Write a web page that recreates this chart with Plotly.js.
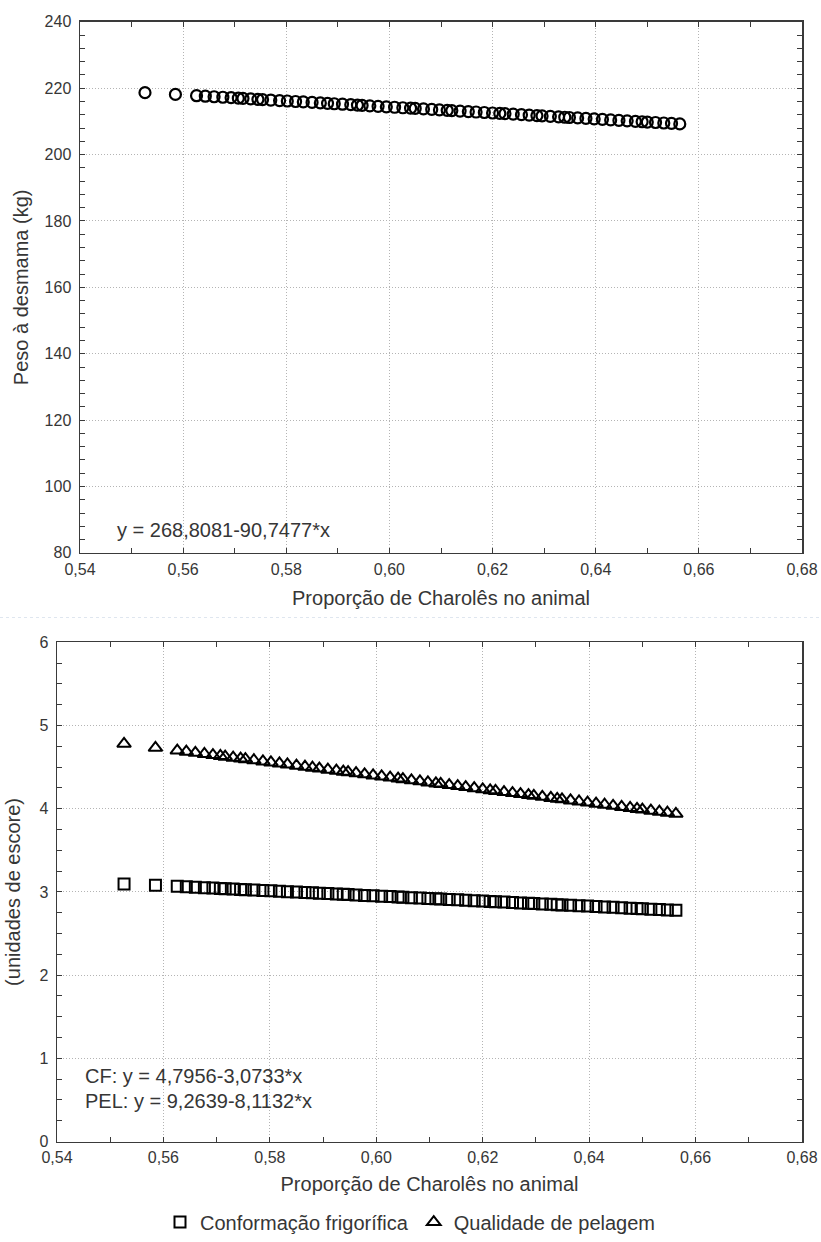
<!DOCTYPE html>
<html>
<head>
<meta charset="utf-8">
<script src="https://cdn.plot.ly/plotly-3.0.1.min.js"></script>
<style>
html,body{margin:0;padding:0;background:#fff;}
#chart{width:821px;height:1242px;}
</style>
</head>
<body>
<div id="chart"></div>
<script>
// Proporção de Charolês no animal (x values)
const propCharoles = [0.5526, 0.5585,
  0.5626, 0.5643, 0.5660, 0.5677, 0.5693, 0.5707, 0.5716, 0.5731, 0.5745, 0.5754,
  0.5770, 0.5787, 0.5802, 0.5818, 0.5833, 0.5850, 0.5866, 0.5880, 0.5893, 0.5909,
  0.5925, 0.5938, 0.5947, 0.5962, 0.5978, 0.5994, 0.6010, 0.6026, 0.6041, 0.6050,
  0.6066, 0.6082, 0.6097, 0.6112, 0.6121, 0.6137, 0.6153, 0.6168, 0.6184, 0.6200,
  0.6214, 0.6224, 0.6240, 0.6256, 0.6271, 0.6286, 0.6296, 0.6312, 0.6328, 0.6340,
  0.6349, 0.6365, 0.6381, 0.6397, 0.6413, 0.6429, 0.6445, 0.6461, 0.6477, 0.6490,
  0.6500, 0.6516, 0.6532, 0.6547, 0.6563];

// Peso à desmama (kg)
const pesoDesmama = [218.66, 218.13,
  217.75, 217.60, 217.44, 217.29, 217.15, 217.02, 216.94, 216.80, 216.67, 216.59,
  216.45, 216.29, 216.16, 216.01, 215.88, 215.72, 215.58, 215.45, 215.33, 215.19,
  215.04, 214.92, 214.84, 214.70, 214.56, 214.41, 214.27, 214.12, 213.99, 213.91,
  213.76, 213.62, 213.48, 213.34, 213.26, 213.12, 212.97, 212.84, 212.69, 212.54,
  212.42, 212.33, 212.18, 212.04, 211.90, 211.76, 211.67, 211.53, 211.38, 211.27,
  211.19, 211.05, 210.90, 210.76, 210.61, 210.47, 210.32, 210.18, 210.03, 209.91,
  209.82, 209.68, 209.53, 209.40, 209.25];

// Conformação frigorífica (unidades de escore)
const conformacao = [3.097, 3.079,
  3.067, 3.061, 3.056, 3.051, 3.046, 3.042, 3.039, 3.034, 3.030, 3.027,
  3.022, 3.017, 3.013, 3.008, 3.003, 2.998, 2.993, 2.989, 2.985, 2.980,
  2.975, 2.971, 2.968, 2.963, 2.958, 2.954, 2.949, 2.944, 2.939, 2.936,
  2.931, 2.926, 2.922, 2.917, 2.915, 2.910, 2.905, 2.900, 2.895, 2.890,
  2.886, 2.883, 2.878, 2.873, 2.868, 2.864, 2.861, 2.856, 2.851, 2.847,
  2.844, 2.840, 2.835, 2.830, 2.825, 2.820, 2.815, 2.810, 2.805, 2.801,
  2.798, 2.793, 2.788, 2.784, 2.779];

// Qualidade de pelagem (unidades de escore)
const pelagem = [4.781, 4.733,
  4.699, 4.686, 4.672, 4.658, 4.645, 4.634, 4.626, 4.614, 4.603, 4.596,
  4.583, 4.569, 4.557, 4.544, 4.532, 4.518, 4.505, 4.493, 4.483, 4.470,
  4.457, 4.446, 4.439, 4.427, 4.414, 4.401, 4.388, 4.375, 4.363, 4.355,
  4.342, 4.330, 4.317, 4.305, 4.298, 4.285, 4.272, 4.260, 4.247, 4.234,
  4.222, 4.214, 4.201, 4.188, 4.176, 4.164, 4.156, 4.143, 4.130, 4.120,
  4.113, 4.100, 4.087, 4.074, 4.061, 4.048, 4.035, 4.022, 4.009, 3.998,
  3.990, 3.977, 3.964, 3.952, 3.939];

const xTickVals = [0.54, 0.56, 0.58, 0.60, 0.62, 0.64, 0.66, 0.68];
const yTopTickVals = [80, 100, 120, 140, 160, 180, 200, 220, 240];
const yBotTickVals = [0, 1, 2, 3, 4, 5, 6];

const seriesNames = ['Conformação frigorífica', 'Qualidade de pelagem'];
const eqTop = 'y = 268,8081-90,7477*x';
const eqCF = 'CF: y = 4,7956-3,0733*x';
const eqPEL = 'PEL: y = 9,2639-8,1132*x';
const xTitle = 'Proporção de Charolês no animal';
const yTopTitle = 'Peso à desmama (kg)';
const yBotTitle = '(unidades de escore)';

const FONT = '"Liberation Sans", Arial, sans-serif';
const TXT = '#363636';
const AX = '#3a3a3a';
const GRID = '#b4b4b4';
const W = 821, H = 1242;

function xaxisDef(domL, anchor, standoff){
  return {
    domain:[domL/W, 802/W], anchor:anchor, range:[0.54,0.68],
    tickvals:xTickVals, tickformat:'.2f',
    showline:true, linecolor:AX, linewidth:1.5, mirror:'allticks',
    ticks:'inside', ticklen:5, tickcolor:AX, tickwidth:1,
    minor:{ticks:'inside', ticklen:5, dtick:0.01, tick0:0.54, tickcolor:AX, tickwidth:1, showgrid:false},
    showgrid:true, gridcolor:GRID, griddash:'1px,2px', gridwidth:1,
    zeroline:false,
    tickfont:{family:FONT, size:16, color:TXT},
    ticklabelstandoff:1,
    title:{text:xTitle, font:{family:FONT, size:20, color:TXT}, standoff:standoff}
  };
}
function yaxisDef(top, bottom, anchor, range, tv, mdt, title, standoff){
  return {
    domain:[1-bottom/H, 1-top/H], anchor:anchor, range:range,
    tickvals:tv,
    showline:true, linecolor:AX, linewidth:1.5, mirror:'allticks',
    ticks:'inside', ticklen:5, tickcolor:AX, tickwidth:1,
    minor:{ticks:'inside', ticklen:5, dtick:mdt, tick0:range[0], tickcolor:AX, tickwidth:1, showgrid:false},
    showgrid:true, gridcolor:GRID, griddash:'1px,2px', gridwidth:1,
    zeroline:false,
    tickfont:{family:FONT, size:16, color:TXT},
    ticklabelstandoff:4,
    title:{text:title, font:{family:FONT, size:20, color:TXT}, standoff:standoff}
  };
}

const traces = [
  {x:propCharoles, y:pesoDesmama, xaxis:'x', yaxis:'y', type:'scatter', mode:'markers',
   showlegend:false, name:'Peso à desmama',
   marker:{symbol:'circle-open', size:11, color:'#000', line:{width:2.2, color:'#000'}}},
  {x:propCharoles, y:conformacao, xaxis:'x2', yaxis:'y2', type:'scatter', mode:'markers',
   name:seriesNames[0],
   marker:{symbol:'square-open', size:11, color:'#000', line:{width:2, color:'#000'}}},
  {x:propCharoles, y:pelagem, xaxis:'x2', yaxis:'y2', type:'scatter', mode:'markers',
   name:seriesNames[1],
   marker:{symbol:'triangle-up-open', size:12, color:'#000', line:{width:2, color:'#000'}}}
];

const layout = {
  width:W, height:H,
  margin:{l:0, r:0, t:0, b:0},
  paper_bgcolor:'#fff', plot_bgcolor:'#fff',
  separators:', ',
  font:{family:FONT, color:TXT},
  xaxis:xaxisDef(80,'y',14),
  yaxis:yaxisDef(22,556,'x',[80,240],yTopTickVals,4,yTopTitle,10),
  xaxis2:xaxisDef(57,'y2',12),
  yaxis2:yaxisDef(646,1148,'x2',[0,6],yBotTickVals,0.25,yBotTitle,13),
  showlegend:true,
  legend:{orientation:'h', x:0.5, xanchor:'center', y:1-1229/H, yanchor:'middle',
          font:{family:FONT, size:20, color:TXT}, itemwidth:30, bgcolor:'rgba(0,0,0,0)'},
  annotations:[
    {xref:'x', yref:'y', x:0.5468, y:87, text:eqTop, showarrow:false, xanchor:'left', yanchor:'middle',
     font:{family:FONT, size:20, color:TXT}},
    {xref:'x2', yref:'y2', x:0.5449, y:0.79, text:eqCF, showarrow:false, xanchor:'left', yanchor:'middle',
     font:{family:FONT, size:20, color:TXT}},
    {xref:'x2', yref:'y2', x:0.5449, y:0.49, text:eqPEL, showarrow:false, xanchor:'left', yanchor:'middle',
     font:{family:FONT, size:20, color:TXT}}
  ],
  shapes:[
    {type:'line', xref:'paper', yref:'paper', x0:0, x1:1, y0:1-621/H, y1:1-621/H,
     line:{color:'#dfe6ef', width:1, dash:'dot'}}
  ]
};

Plotly.newPlot('chart', traces, layout, {displayModeBar:false, staticPlot:true});
</script>
</body>
</html>
